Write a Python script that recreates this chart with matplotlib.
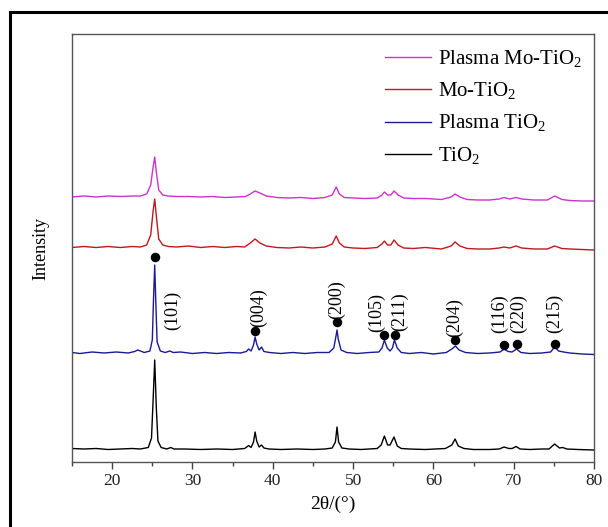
import matplotlib
matplotlib.use("Agg")
import matplotlib.pyplot as plt
from matplotlib.lines import Line2D
from matplotlib.ticker import MultipleLocator

plt.rcParams['font.family'] = ['Liberation Serif', 'DejaVu Serif']
plt.rcParams['mathtext.fontset'] = 'custom'
plt.rcParams['mathtext.rm'] = 'Liberation Serif'

# ---------------- data ----------------
series_names = ["TiO$_2$", "Plasma TiO$_2$", "Mo-TiO$_2$", "Plasma Mo-TiO$_2$"]

tio2_x = [15, 16.5, 18, 19.5, 21, 22.5, 23.5, 24.5, 24.9, 25.1, 25.3, 25.5, 25.7, 26.1, 26.8, 27.3, 27.7,
          29, 31, 33, 35, 36.5, 37.0, 37.3, 37.6, 37.8, 38.0, 38.3, 38.6, 38.9, 39.5, 41, 43, 45, 46.5,
          47.4, 47.8, 48.0, 48.2, 48.6, 49.5, 51, 53.0, 53.5, 53.9, 54.3, 54.6, 55.1, 55.5, 56.0, 57,
          59, 61.5, 62.3, 62.7, 63.1, 63.8, 65, 67, 68.2, 68.8, 69.4, 69.8, 70.3, 70.8, 72, 73.5, 74.4,
          75.1, 75.7, 76.1, 76.6, 78, 80]
tio2_y = [1.5, 1.0, 1.5, 0.5, 1.0, 1.5, 1.0, 2.5, 12, 50, 90, 42, 9, 2.5, 1.0, 2.5, 1.0,
          1.0, 0.5, 1.0, 0.5, 1.5, 4.5, 2.5, 8, 18, 9, 3, 5, 2, 1.0, 0.5, 1.0, 0.5, 1.0,
          2, 8, 23, 8, 2, 1.0, 0.5, 1.5, 5, 14, 5, 5, 13, 4, 1.5, 1.0,
          0.5, 1.5, 5, 11, 4, 1.5, 0.5, 0.5, 1.0, 3, 1.5, 1.5, 3.5, 1.0, 0.5, 1.0, 1.0,
          6, 2, 2.5, 1.0, 0.5, 0.0]

ptio2_x = [15, 16, 17.5, 19, 20.5, 22, 22.8, 23.2, 24, 24.7, 25.0, 25.15, 25.3, 25.45, 25.6, 26.0, 26.6,
           27.2, 27.6, 28.5, 30, 31.5, 33, 34.5, 36.0, 36.7, 37.0, 37.3, 37.6, 37.8, 38.0, 38.3, 38.6,
           38.9, 39.6, 41, 42.5, 44, 45.5, 47.0, 47.6, 47.85, 48.0, 48.15, 48.5, 49.2, 50.5, 52, 53.2,
           53.6, 53.9, 54.25, 54.6, 54.9, 55.15, 55.5, 56.0, 57, 58.5, 60, 61.6, 62.3, 62.75, 63.2, 64,
           65.5, 67, 68.3, 68.8, 69.3, 69.8, 70.35, 70.9, 72, 73.5, 74.6, 75.1, 75.6, 76.2, 77, 78.5, 80]
ptio2_y = [1.5, 0.5, 2, 1.0, 2, 1.0, 2.5, 4, 1.5, 3, 14, 55, 89, 48, 12, 3, 1.5,
           3, 1.5, 2, 0.5, 1.5, 0.5, 1.5, 1.0, 2.5, 5, 3, 9, 17, 10, 4, 7,
           2.5, 1.5, 0.5, 1.5, 0.5, 1.5, 1.5, 6, 17, 24, 15, 4, 1.5, 0.5, 1.5, 2,
           6, 14, 6, 3, 6, 14, 6, 1.5, 0.5, 1.5, 0.0, 1.5, 5, 8, 4, 1.5,
           0.5, 1.0, 2, 5, 2.5, 2, 5, 1.5, 0.5, 1.0, 2, 7, 3, 2, 1.0, 0.0, -0.5]

motio2_x = [15, 16.5, 18, 19.5, 21, 22.5, 23.5, 24.3, 24.8, 25.1, 25.3, 25.5, 25.8, 26.3, 27.0, 28,
            29.5, 31, 32.5, 34, 35.5, 36.5, 37.2, 37.8, 38.4, 39.2, 40.5, 42, 43.5, 45, 46.5, 47.4,
            47.9, 48.3, 48.9, 50, 51.5, 53.0, 53.6, 53.9, 54.3, 54.7, 55.1, 55.6, 56.3, 57.5, 59,
            61, 62.2, 62.7, 63.3, 64.2, 65.5, 67, 68.2, 68.8, 69.5, 70.3, 71.0, 72.5, 74.2, 75.1,
            76.0, 77, 78.5, 80]
motio2_y = [1.5, 2.5, 1.5, 2.5, 1.5, 2.5, 2, 4, 14, 38, 50, 33, 10, 4, 2.5, 2,
            3, 1.5, 2.5, 1.5, 2.5, 2, 6, 10, 6, 3, 1.5, 1.0, 2, 1.0, 2, 5,
            13, 6, 2, 1.0, 0.5, 1.5, 5, 8, 4, 4, 9, 4, 1.0, 0.5, 1.5,
            0.0, 3, 7, 3, 0.5, 0.0, 0.0, 1.0, 2, 1.0, 3, 1.0, 0.0, 0.0, 3,
            0.5, 0.0, -0.5, -1.0]

pmotio2_x = [15, 16.5, 18, 19.5, 21, 22.5, 23.5, 24.3, 24.8, 25.1, 25.3, 25.5, 25.8, 26.3, 27.0, 28,
             29.5, 31, 32.5, 34, 35.5, 36.6, 37.2, 37.8, 38.4, 39.2, 40.5, 42, 43.5, 45, 46.5, 47.4,
             47.9, 48.3, 48.9, 50, 51.5, 53.0, 53.6, 53.9, 54.3, 54.7, 55.1, 55.6, 56.3, 57.5, 59,
             61, 62.2, 62.7, 63.3, 64.2, 65.5, 67, 68.2, 68.8, 69.5, 70.3, 71.0, 72.5, 74.2, 75.1,
             76.0, 77, 78.5, 80]
pmotio2_y = [2, 3, 2, 3, 2.5, 3, 3, 5, 14, 32, 42, 27, 9, 4, 3, 2.5,
             2.5, 2, 2.5, 1.5, 2, 2.5, 5, 8, 6, 3, 1.5, 1.0, 1.5, 0.5, 1.5, 4,
             12, 5, 1.5, 1.0, 0.5, 1.0, 4, 7, 4, 4, 8, 4, 1.0, 0.5, 0.5,
             -0.5, 2, 5, 2, -0.5, -1.0, -1.0, 0.0, 1.5, 0.0, 1.5, 0.0, -1.0, -1.0, 3,
             -0.5, -1.5, -2.0, -2.0]

# vertical stacking of the patterns (a.u.)
offsets = [12, 108, 213, 263]

# anatase reflections marked above the Plasma TiO2 pattern
hkl_labels = ["(101)", "(004)", "(200)", "(105)", "(211)", "(204)", "(116)", "(220)", "(215)"]
dot_x = [25.3, 37.8, 48.0, 53.9, 55.2, 62.7, 68.8, 70.4, 75.1]
dot_y = [205, 131, 140, 127, 127, 122, 117, 118, 118]
label_x = [27.5, 38.2, 48.0, 52.9, 55.8, 62.6, 68.3, 70.6, 75.1]
label_y = [132, 135, 143, 130, 131, 125, 129, 129, 129]

x_ticks = [20, 30, 40, 50, 60, 70, 80]

# ---------------- figure ----------------
fig = plt.figure(figsize=(6.08, 5.27), dpi=100)
ax = fig.add_axes([72 / 608, 1 - 462 / 527, (594 - 72) / 608, (462 - 34) / 527])

colors = ["#000000", "#1a1a96", "#c0181e", "#cc33cc"]
xs = [tio2_x, ptio2_x, motio2_x, pmotio2_x]
ys = [tio2_y, ptio2_y, motio2_y, pmotio2_y]

handles = []
for name, x, y, off, c in zip(series_names, xs, ys, offsets, colors):
    ln, = ax.plot(x, [v + off for v in y], color=c, lw=1.0, label=name)
    handles.append(ln)

ax.scatter(dot_x, dot_y, s=34, color="black", zorder=5)
for t, lx, ly in zip(hkl_labels, label_x, label_y):
    ax.text(lx, ly, t, rotation=90, ha="center", va="bottom", fontsize=13)

ax.set_xlim(15, 80)
ax.set_ylim(0, 428)
ax.set_xticks(x_ticks)
ax.xaxis.set_minor_locator(MultipleLocator(5))
ax.set_yticks([])
ax.tick_params(axis="x", which="major", direction="out", length=5, width=1, colors="#444444",
               labelsize=12.5, labelcolor="#222222", pad=3)
ax.tick_params(axis="x", which="minor", direction="out", length=3, width=1, colors="#444444")
for s in ax.spines.values():
    s.set_color("#555555")
    s.set_linewidth(1.0)

ax.set_xlabel("2θ/(°)", fontsize=14, labelpad=5, family=["Liberation Serif", "DejaVu Sans"])
ax.set_ylabel("Intensity", fontsize=13, labelpad=16)

leg = ax.legend(handles[::-1], [h.get_label() for h in handles[::-1]], loc="upper left",
                frameon=False, fontsize=15, handlelength=2.2, handletextpad=0.35,
                labelspacing=0.52, borderpad=0, borderaxespad=0,
                bbox_to_anchor=((385 - 72) / 522, (462 - 48) / 428))

# outer frame (top and left edges visible)
fig.add_artist(Line2D([10 / 608, 10 / 608], [0, 1 - 12 / 527], transform=fig.transFigure,
                      color="black", lw=2.2))
fig.add_artist(Line2D([10 / 608, 1], [1 - 12 / 527, 1 - 12 / 527], transform=fig.transFigure,
                      color="black", lw=2.2))

fig.savefig("out.png", dpi=100)
